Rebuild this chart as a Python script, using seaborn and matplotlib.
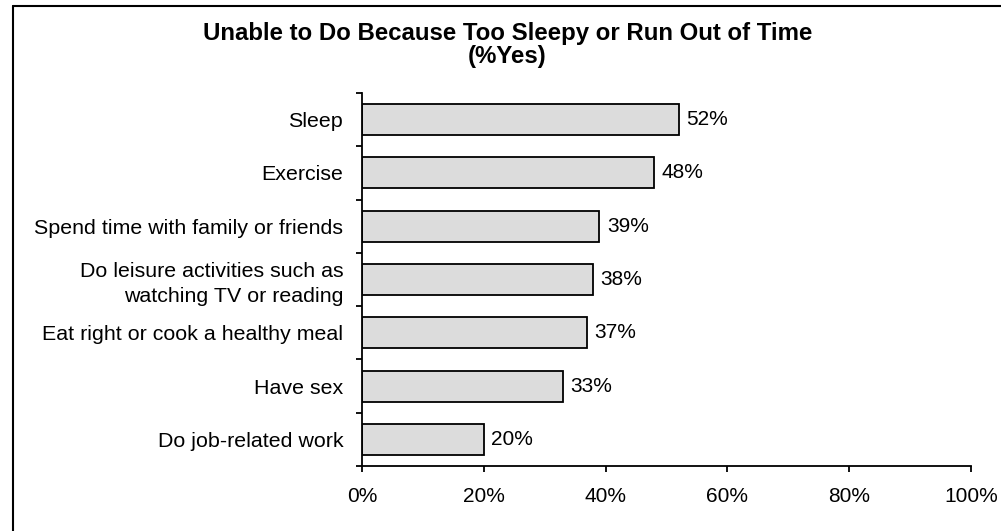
import matplotlib
matplotlib.use("Agg")
import matplotlib.pyplot as plt
from matplotlib.lines import Line2D
from matplotlib.ticker import FuncFormatter, MultipleLocator
import seaborn as sns
import pandas as pd
import numpy as np

categories = [
    "Sleep",
    "Exercise",
    "Spend time with family or friends",
    "Do leisure activities such as\nwatching TV or reading",
    "Eat right or cook a healthy meal",
    "Have sex",
    "Do job-related work",
]
pct_yes = [52, 48, 39, 38, 37, 33, 20]

sns.set_theme(style="white")
plt.rcParams["font.family"] = ["Liberation Sans", "DejaVu Sans"]
plt.rcParams["text.color"] = "black"

df = pd.DataFrame({"activity": categories, "pct": pct_yes})

fig = plt.figure(figsize=(10.01, 5.31), dpi=100)
ax = fig.add_axes([0.3616, 0.1224, 0.6084, 0.7026])

sns.barplot(data=df, x="pct", y="activity", orient="h", color="#DCDCDC",
            edgecolor="black", linewidth=1.3, width=0.58, saturation=1, ax=ax)

for patch, v in zip(ax.patches, pct_yes):
    ax.text(patch.get_width() + 1.2, patch.get_y() + patch.get_height() / 2,
            f"{v}%", va="center", ha="left", fontsize=15, color="black")

ax.set_xlim(0, 100)
ax.set_ylim(len(categories) - 0.5, -0.5)
ax.xaxis.set_major_locator(MultipleLocator(20))
ax.xaxis.set_major_formatter(FuncFormatter(lambda v, p: f"{v:.0f}%"))
ax.set_xlabel("")
ax.set_ylabel("")

# category boundaries carry the tick marks; labels sit at the centres
ax.set_yticks(np.arange(len(categories)))
ax.set_yticklabels(categories)
ax.set_yticks(np.arange(-0.5, len(categories)), minor=True)
ax.tick_params(axis="y", which="major", length=0, pad=13.5, labelsize=15.4, colors="black")
ax.tick_params(axis="y", which="minor", left=True, length=4, width=1.3, direction="out", color="black")
ax.tick_params(axis="x", which="major", bottom=True, length=4.3, width=1.3, direction="out",
               pad=11, labelsize=15, colors="black", color="black")
for lbl in ax.get_yticklabels():
    lbl.set_linespacing(1.38)

for side in ("top", "right"):
    ax.spines[side].set_visible(False)
for side in ("left", "bottom"):
    ax.spines[side].set_visible(True)
    ax.spines[side].set_color("black")
    ax.spines[side].set_linewidth(1.3)

fig.text(0.507, 0.916, "Unable to Do Because Too Sleepy or Run Out of Time\n(%Yes)",
         ha="center", va="center", fontsize=17.3, fontweight="bold", linespacing=1.0,
         color="black")

# outer frame of the chart area
fig.add_artist(Line2D([0.0125, 0.0125], [0.0, 0.988], transform=fig.transFigure,
                      color="black", linewidth=1.5))
fig.add_artist(Line2D([0.0125, 1.0], [0.988, 0.988], transform=fig.transFigure,
                      color="black", linewidth=1.5))

fig.savefig("out.png", dpi=100, facecolor="white")
